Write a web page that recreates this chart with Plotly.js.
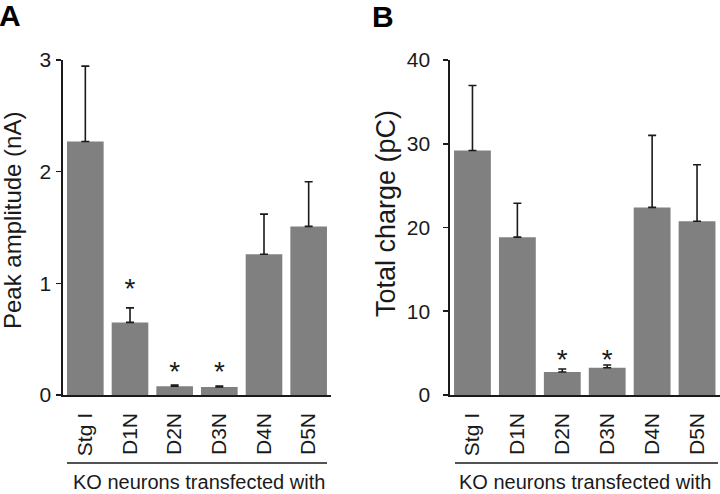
<!DOCTYPE html>
<html><head><meta charset="utf-8">
<script src="https://cdn.plot.ly/plotly-3.0.1.min.js"></script>
<style>html,body{margin:0;padding:0;background:#fff}</style>
</head><body><div id="chart" style="width:720px;height:494px"></div>
<script>
const categories = ['Stg I', 'D1N', 'D2N', 'D3N', 'D4N', 'D5N'];
const peakAmplitude = [2.27, 0.65, 0.078, 0.072, 1.26, 1.51];
const peakAmplitudeErr = [0.675, 0.13, 0.012, 0.009, 0.36, 0.40];
const totalCharge = [29.2, 18.85, 2.75, 3.25, 22.4, 20.75];
const totalChargeErr = [7.75, 4.05, 0.35, 0.33, 8.6, 6.75];
const starsA = [null, 0.93, 0.19, 0.19, null, null];
const starsB = [null, null, 3.97, 3.97, null, null];

const FONT = 'Liberation Sans, Arial, sans-serif';
const BAR = '#808080';
const INK = '#1a1a1a';

function barTrace(y, err, xa, ya) {
  return {
    type: 'bar', x: categories, y: y, xaxis: xa, yaxis: ya,
    width: 0.82,
    marker: {color: BAR, line: {width: 0}},
    error_y: {type: 'data', array: err, symmetric: false, arrayminus: err.map(() => 0),
              color: INK, thickness: 1.6, width: 4},
    hoverinfo: 'skip', showlegend: false
  };
}
function starTrace(y, xa, ya) {
  return {
    type: 'scatter', mode: 'text', x: categories, y: y, xaxis: xa, yaxis: ya,
    text: y.map(v => v === null ? '' : '*'),
    textposition: 'middle center',
    textfont: {family: FONT, size: 28, color: INK},
    hoverinfo: 'skip', showlegend: false
  };
}

const data = [
  barTrace(peakAmplitude, peakAmplitudeErr, 'x', 'y'),
  starTrace(starsA, 'x', 'y'),
  barTrace(totalCharge, totalChargeErr, 'x2', 'y2'),
  starTrace(starsB, 'x2', 'y2')
];

const yDom = [(494 - 395) / 494, (494 - 60) / 494];
const xAxisBase = {
  type: 'category', range: [-0.5, 5.5], showgrid: false, zeroline: false,
  showline: true, linecolor: INK, linewidth: 1.6, ticks: '', tickangle: -90,
  ticklabelstandoff: 8,
  tickfont: {family: FONT, size: 21, color: INK}, fixedrange: true
};
const yAxisBase = {
  showgrid: false, zeroline: false, showline: true, linecolor: INK, linewidth: 1.6,
  ticks: 'outside', ticklen: 5, tickwidth: 1.6, tickcolor: INK,
  tickfont: {family: FONT, size: 21, color: INK}, domain: yDom, fixedrange: true
};

const layout = {
  width: 720, height: 494,
  margin: {l: 0, r: 0, t: 0, b: 0},
  paper_bgcolor: '#fff', plot_bgcolor: '#fff',
  bargap: 0.18,
  xaxis: Object.assign({}, xAxisBase, {domain: [63 / 720, 331 / 720], anchor: 'y'}),
  yaxis: Object.assign({}, yAxisBase, {range: [0, 3], tickvals: [0, 1, 2, 3], anchor: 'x', ticklabelstandoff: 1}),
  xaxis2: Object.assign({}, xAxisBase, {domain: [450 / 720, 719.5 / 720], anchor: 'y2'}),
  yaxis2: Object.assign({}, yAxisBase, {range: [0, 40], tickvals: [0, 10, 20, 30, 40], anchor: 'x2', ticklabelstandoff: 9}),
  shapes: [
    {type: 'line', xref: 'paper', yref: 'paper', x0: 67 / 720, x1: 327 / 720,
     y0: (494 - 463) / 494, y1: (494 - 463) / 494, line: {color: INK, width: 1.5}},
    {type: 'line', xref: 'paper', yref: 'paper', x0: 455 / 720, x1: 718 / 720,
     y0: (494 - 463) / 494, y1: (494 - 463) / 494, line: {color: INK, width: 1.5}}
  ],
  annotations: [
    {text: '<b>A</b>', xref: 'paper', yref: 'paper', x: 0, y: 1, xanchor: 'left', yanchor: 'top',
     showarrow: false, font: {family: FONT, size: 30, color: '#000'}, xshift: -3, yshift: 3},
    {text: '<b>B</b>', xref: 'paper', yref: 'paper', x: 370 / 720, y: 1, xanchor: 'left', yanchor: 'top',
     showarrow: false, font: {family: FONT, size: 30, color: '#000'}, yshift: 2},
    {text: 'Peak amplitude (nA)', xref: 'paper', yref: 'paper', x: 13 / 720, y: (494 - 221) / 494,
     textangle: -90, showarrow: false, xanchor: 'center', yanchor: 'middle',
     font: {family: FONT, size: 24, color: INK}},
    {text: 'Total charge (pC)', xref: 'paper', yref: 'paper', x: 386 / 720, y: (494 - 214) / 494,
     textangle: -90, showarrow: false, xanchor: 'center', yanchor: 'middle',
     font: {family: FONT, size: 27, color: INK}},
    {text: 'KO neurons transfected with', xref: 'paper', yref: 'paper', x: 199 / 720, y: 0,
     xanchor: 'center', yanchor: 'bottom', yshift: -1, showarrow: false,
     font: {family: FONT, size: 20, color: INK}},
    {text: 'KO neurons transfected with', xref: 'paper', yref: 'paper', x: 585 / 720, y: 0,
     xanchor: 'center', yanchor: 'bottom', yshift: -1, showarrow: false,
     font: {family: FONT, size: 20, color: INK}}
  ]
};

Plotly.newPlot('chart', data, layout, {displayModeBar: false, staticPlot: true});
</script>
</body></html>
